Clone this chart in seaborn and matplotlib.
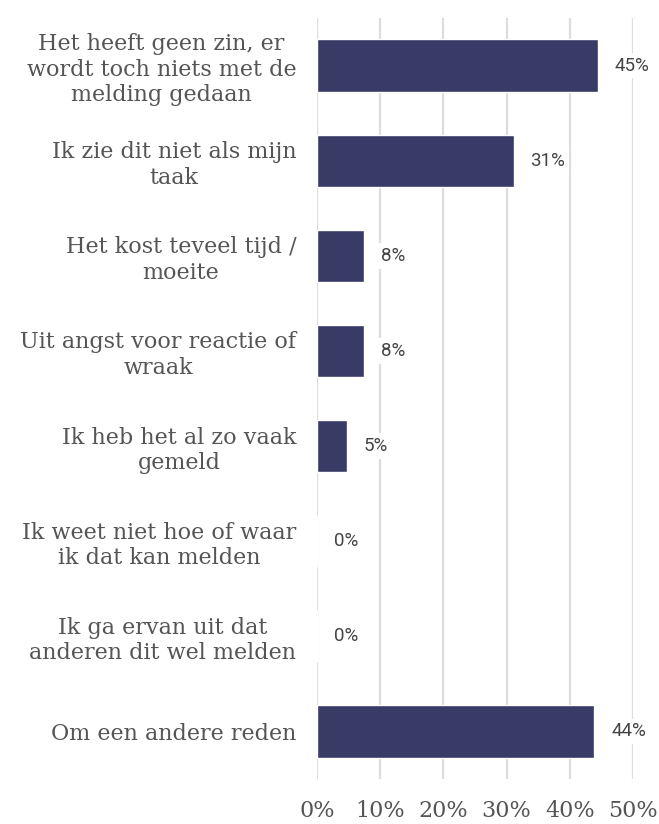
import matplotlib
matplotlib.use("Agg")
import matplotlib.pyplot as plt
import seaborn as sns
import pandas as pd

# ---------- Data ----------
categories = [
    "Het heeft geen zin, er\nwordt toch niets met de\nmelding gedaan",
    "Ik zie dit niet als mijn\ntaak",
    "Het kost teveel tijd /\nmoeite",
    "Uit angst voor reactie of\nwraak",
    "Ik heb het al zo vaak\ngemeld",
    "Ik weet niet hoe of waar\nik dat kan melden",
    "Ik ga ervan uit dat\nanderen dit wel melden",
    "Om een andere reden",
]
shares = [0.445, 0.311, 0.075, 0.075, 0.048, 0.0, 0.0, 0.439]
value_labels = ["45%", "31%", "8%", "8%", "5%", "0%", "0%", "44%"]
x_ticks = [0.0, 0.1, 0.2, 0.3, 0.4, 0.5]
x_tick_labels = ["0%", "10%", "20%", "30%", "40%", "50%"]

df = pd.DataFrame({"reden": categories, "aandeel": shares})

sns.set_style("white")
plt.rcParams["font.family"] = ["DejaVu Serif"]

fig = plt.figure(figsize=(6.59, 8.24), dpi=100)
ax = fig.add_axes([0.481, 0.0546, 0.4795, 0.9235])

sns.barplot(data=df, x="aandeel", y="reden", color="#383B66", width=0.55,
            saturation=1, ax=ax, zorder=3)

ax.set_xlim(0, 0.5)
ax.set_ylim(len(categories) - 0.5, -0.5)
ax.set_xticks(x_ticks)
ax.set_xticklabels(x_tick_labels, fontsize=16, color="#555555")
ax.tick_params(axis="x", length=0, pad=15)
ax.tick_params(axis="y", length=0, pad=15)
for lbl in ax.get_yticklabels():
    lbl.set_fontsize(16)
    lbl.set_color("#555555")
    lbl.set_multialignment("center")
ax.set_xlabel("")
ax.set_ylabel("")
ax.grid(axis="x", color="#DDDDDD", linewidth=1.6, zorder=0)
for s in ax.spines.values():
    s.set_visible(False)

for i, (v, txt) in enumerate(zip(shares, value_labels)):
    ax.annotate(txt, xy=(v, i), xytext=(12, 0), textcoords="offset points",
                ha="left", va="center", fontsize=13.5, color="#444444",
                family=["Roboto", "DejaVu Sans"], annotation_clip=False,
                bbox=dict(boxstyle="square,pad=0.2", fc="white", ec="none"),
                zorder=4)

fig.savefig("out.png", dpi=100)
